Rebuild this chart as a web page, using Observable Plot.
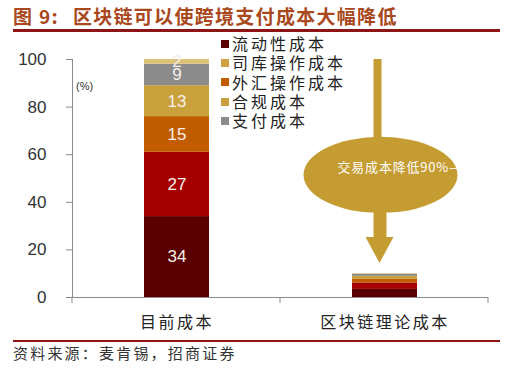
<!DOCTYPE html>
<html><head><meta charset="utf-8">
<script src="https://cdn.jsdelivr.net/npm/d3@7"></script>
<script src="https://cdn.jsdelivr.net/npm/@observablehq/plot@0.6"></script>
<style>
body{margin:0;background:#fff;width:509px;height:375px;position:relative;overflow:hidden;font-family:"Noto Sans CJK SC",sans-serif;}
#title{height:29px;line-height:31px;padding-left:13px;font-size:19px;font-weight:bold;color:#a8481c;letter-spacing:1.3px;white-space:nowrap;}
.rule{margin-left:13px;width:487px;height:3px;background:#8e1515;}
.rule2{margin-left:13px;width:487px;height:2px;background:#8e1515;}
#caption{padding-left:13px;font-size:15px;color:#333;letter-spacing:2.2px;line-height:22px;}
#legend{position:absolute;left:221px;top:34px;font-size:16px;color:#222;letter-spacing:3px;}
#legend .row{height:19.3px;line-height:19.3px;display:flex;align-items:center;white-space:nowrap;}
#legend .sw{width:8px;height:8px;margin-right:3px;display:inline-block;}
#chart{height:308px;}
</style>
</head><body>
<div id="title">图 9:<span style="margin-left:14px">区块链可以使跨境支付成本大幅降低</span></div>
<div class="rule"></div>
<div id="chart"></div>
<div class="rule2"></div>
<div id="caption">资料来源：麦肯锡，招商证券</div>
<div id="legend"></div>
<script>
const categories = ["目前成本", "区块链理论成本"];
const seriesKeys = ["s1", "s2", "s3", "s4", "s5", "s6"];
const currentCost = [34, 27, 15, 13, 9, 2];
const blockchainCost = [3.4, 2.7, 1.5, 1.3, 0.9, 0.2];
const segmentColors = ["#5b0000", "#a40000", "#c15c00", "#c9a13c", "#8b8b8b", "#dcc277"];
const legendLabels = ["流动性成本", "司库操作成本", "外汇操作成本", "合规成本", "支付成本"];
const legendColors = ["#5b0000", "#cfa145", "#c15c00", "#c9a13c", "#8b8b8b"];
const yTicks = [0, 20, 40, 60, 80, 100];
const unitLabel = "(%)";
const annotationText = "交易成本降低90%—";

const data = [];
categories.forEach((c, ci) => {
  const vals = ci === 0 ? currentCost : blockchainCost;
  seriesKeys.forEach((s, si) => data.push({cat: c, series: s, value: vals[si], label: ci === 0 ? String(vals[si]) : ""}));
});

const chart = Plot.plot({
  width: 509, height: 308,
  marginTop: 27, marginBottom: 43, marginLeft: 72, marginRight: 21,
  style: {fontFamily: "'Liberation Sans', Arial, sans-serif", fontSize: "17px", color: "#8a8a8a", background: "transparent"},
  x: {domain: categories, paddingInner: 0.6875, paddingOuter: 0.34375, axis: null},
  y: {domain: [0, 100], ticks: yTicks, tickSize: 6, tickPadding: 20, line: true, label: null},
  color: {domain: seriesKeys, range: segmentColors},
  marks: [
    Plot.barY(data, {x: "cat", y: "value", fill: "series", order: seriesKeys}),
    Plot.text(data, Plot.stackY({x: "cat", y: "value", z: "series", order: seriesKeys, text: "label", fill: "#f6f0ea", fontSize: 17})),
    Plot.ruleY([0], {stroke: "#8a8a8a"}),
    Plot.text(categories, {x: d => d, y: 0, dy: 25, text: d => d, fill: "#222", fontSize: 16, fontFamily: "'Noto Sans CJK SC'"}),
    Plot.text([unitLabel], {x: () => categories[0], y: 88.5, dx: -101, text: d => d, fill: "#333", fontSize: 11, textAnchor: "start"})
  ]
});
document.getElementById("chart").appendChild(chart);

const svg = d3.select(chart);
svg.selectAll("text").each(function() {
  const t = this.textContent.trim();
  if (yTicks.map(String).includes(t) && !this.closest("[aria-label='text']")) d3.select(this).attr("fill", "#333");
});
svg.selectAll("text").filter(function(){return categories.includes(this.textContent);}).style("letter-spacing", "2.5px");

const xs = chart.scale("x"), ys = chart.scale("y");
const [r0, r1] = xs.range;
const bw = xs.bandwidth, step = xs.step;
const g = svg.append("g");
[r0, (r0 + r1) / 2, r1].forEach(x => g.append("line").attr("x1", x).attr("x2", x).attr("y1", ys.apply(0)).attr("y2", ys.apply(0) + 6).attr("stroke", "#8a8a8a"));

// annotation
const gold = "#c59c32";
const cx = xs.apply(categories[1]) + bw / 2 - 5;
g.append("line").attr("x1", cx - 2).attr("x2", cx - 2).attr("y1", ys.apply(100)).attr("y2", ys.apply(60)).attr("stroke", gold).attr("stroke-width", 8);
g.append("ellipse").attr("cx", cx + 1).attr("cy", ys.apply(51.3)).attr("rx", step * 0.37).attr("ry", ys.apply(35.7) - ys.apply(51.3) + 1).attr("fill", gold);
g.append("rect").attr("x", cx - 6).attr("width", 13).attr("y", ys.apply(37)).attr("height", ys.apply(25) - ys.apply(37)).attr("fill", gold);
g.append("path").attr("d", `M${cx - 14},${ys.apply(25.2)}L${cx + 14},${ys.apply(25.2)}L${cx},${ys.apply(14.3)}Z`).attr("fill", gold);
g.append("text").attr("x", cx + 20).attr("y", ys.apply(54.6)).attr("dy", "0.35em").attr("text-anchor", "middle")
  .attr("fill", "#fff").attr("font-size", 13).attr("font-family", "'Noto Sans CJK SC'").style("letter-spacing", "0.8px").text(annotationText);

// legend
const lg = document.getElementById("legend");
legendLabels.forEach((l, i) => {
  const row = document.createElement("div"); row.className = "row";
  row.innerHTML = `<span class="sw" style="background:${legendColors[i]}"></span><span>${l}</span>`;
  lg.appendChild(row);
});
</script>
</body></html>
